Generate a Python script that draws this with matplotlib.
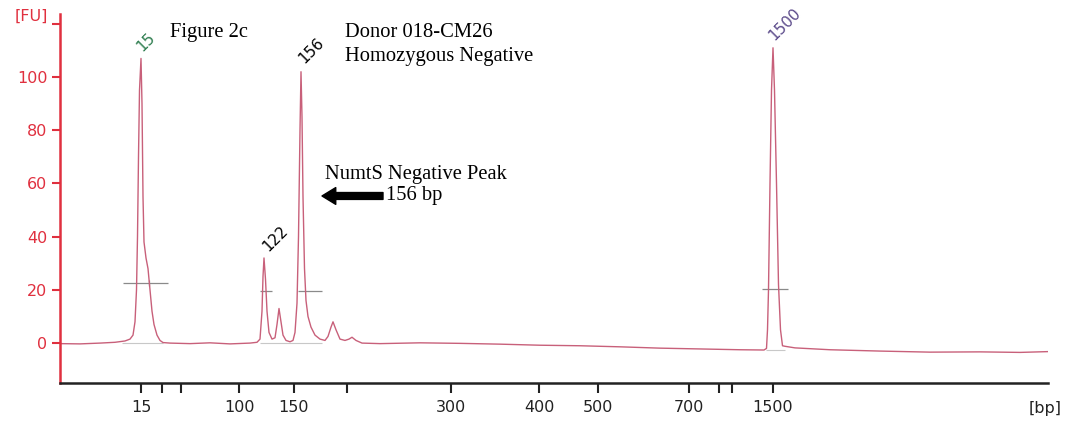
import matplotlib
matplotlib.use("Agg")
import matplotlib.pyplot as plt

# electropherogram trace: migration time [s] vs fluorescence [FU]
time_s = [20.0, 22.0, 24.0, 25.5, 26.5, 27.0, 27.3, 27.5, 27.65, 27.75, 27.85, 27.95,
          28.1, 28.2, 28.3, 28.4, 28.6, 28.8, 29.0, 29.2, 29.4, 29.7, 30.0, 30.3,
          31.0, 33.0, 35.0, 37.0, 39.0, 39.7, 40.0, 40.2, 40.3, 40.4, 40.55, 40.7,
          40.9, 41.2, 41.5, 41.7, 41.9, 42.1, 42.3, 42.6, 43.0, 43.3, 43.5, 43.7,
          43.85, 44.0, 44.1, 44.2, 44.3, 44.45, 44.6, 44.8, 45.1, 45.5, 46.0, 46.5,
          46.8, 47.1, 47.3, 47.6, 48.0, 48.5, 48.9, 49.2, 49.6, 50.2, 52.0, 56.0,
          60.0, 64.0, 68.0, 72.0, 76.0, 80.0, 84.0, 88.0, 90.4, 90.65, 90.75, 90.85,
          91.0, 91.15, 91.3, 91.45, 91.65, 91.85, 92.05, 92.25, 92.5, 93.5, 97.0,
          102.0, 107.0, 112.0, 116.0, 118.8]
fu = [-0.2, -0.3, 0.0, 0.3, 0.8, 1.5, 3, 8, 20, 40, 70, 95,
      107, 90, 55, 38, 32, 28, 20, 12, 7, 3, 1, 0.2,
      0, -0.2, 0.1, -0.3, 0, 0.3, 1.5, 12, 25, 32, 24, 12,
      4, 1.5, 2, 7, 13, 8, 3, 1, 0.5, 1, 4, 15,
      40, 80, 102, 85, 55, 28, 16, 10, 6, 3, 1.5, 1,
      2.5, 6, 8, 5, 1.5, 1, 1.5, 2.2, 1, 0, -0.2, 0.1,
      -0.1, -0.4, -0.8, -1.0, -1.4, -1.9, -2.2, -2.5, -2.6, -2, 5, 20,
      60, 95, 111, 95, 60, 22, 5, -1, -1.2, -1.8, -2.5,
      -3, -3.4, -3.3, -3.5, -3.2]

# ladder sizes on the x axis
tick_time = [28.1, 30.2, 32.1, 37.9, 43.4, 48.7, 59.1, 67.9, 73.8, 82.9, 85.9, 87.2, 91.3]
tick_bp = ["15", "", "", "100", "150", "", "300", "400", "500", "700", "", "", "1500"]

# peak table
peak_names = ["15", "122", "156", "1500"]
peak_lbl_x = [28.6, 41.5, 45.1, 92.5]
peak_lbl_y = [113.2, 39.1, 109.8, 119.9]
peak_colors = ["#2e7d4f", "black", "black", "#5b4a8a"]

# half height markers and peak baselines
half_y = [22.5, 19.5, 19.5, 20.3]
half_x0 = [26.3, 40.0, 43.8, 90.2]
half_x1 = [30.8, 41.2, 46.2, 92.8]
base_y = [0, 0, -2.6]
base_x0 = [26.2, 40.0, 90.6]
base_x1 = [30.3, 46.2, 92.5]

red = "#e0303f"

fig = plt.figure(figsize=(10.68, 4.21), dpi=100)
ax = fig.add_axes([60/1068, 38/421, 988/1068, 369/421])

ax.hlines(base_y, base_x0, base_x1, color="#c8c8c8", lw=0.8)
ax.hlines(half_y, half_x0, half_x1, color="#8a8a8a", lw=0.9)
ax.vlines([28.9], [21.3], [23.7], color="#8a8a8a", lw=0.9)
ax.plot(time_s, fu, color="#c8607a", lw=1.0)

for name, x, y, c in zip(peak_names, peak_lbl_x, peak_lbl_y, peak_colors):
    ax.text(x, y, name, rotation=45, ha="center", va="center", color=c,
            fontsize=11, rotation_mode="anchor")

serif = "Liberation Serif"
fs = 14.8
ax.text(31.0, 116.9, "Figure 2c", family=serif, fontsize=fs, va="center")
ax.text(48.5, 116.9, "Donor 018-CM26", family=serif, fontsize=fs, va="center")
ax.text(48.5, 107.9, "Homozygous Negative", family=serif, fontsize=fs, va="center")
ax.text(46.5, 63.2, "NumtS Negative Peak", family=serif, fontsize=fs, va="center")
ax.text(52.6, 55.6, "156 bp", family=serif, fontsize=fs, va="center")
ax.annotate("", xy=(46.2, 55.3), xytext=(52.3, 55.3),
            arrowprops=dict(arrowstyle="simple,head_width=1.1,head_length=0.9,tail_width=0.45",
                            color="black", mutation_scale=11, shrinkA=0, shrinkB=0))

ax.set_xlim(20, 118.8)
ax.set_ylim(-15.0, 123.7)
ax.set_xticks(tick_time)
ax.set_xticklabels(tick_bp)
ax.set_yticks([0, 20, 40, 60, 80, 100, 120])
ax.set_yticklabels(["0", "20", "40", "60", "80", "100", "[FU]"])
ax.get_yticklabels()[-1].set_va("bottom")

for s in ["top", "right"]:
    ax.spines[s].set_visible(False)
ax.spines["left"].set_color(red)
ax.spines["left"].set_linewidth(1.8)
ax.spines["bottom"].set_color("#222222")
ax.spines["bottom"].set_linewidth(1.8)
ax.tick_params(axis="y", colors=red, labelcolor=red, length=6, width=1.5,
               labelsize=11.5, pad=3)
ax.tick_params(axis="x", colors="#222222", length=7, width=1.5, labelsize=11.5, pad=5)

fig.text(1045/1068, 1 - 408/421, "[bp]", ha="center", va="center", fontsize=11.5,
         color="#222222")

fig.savefig("out.png", dpi=100)
